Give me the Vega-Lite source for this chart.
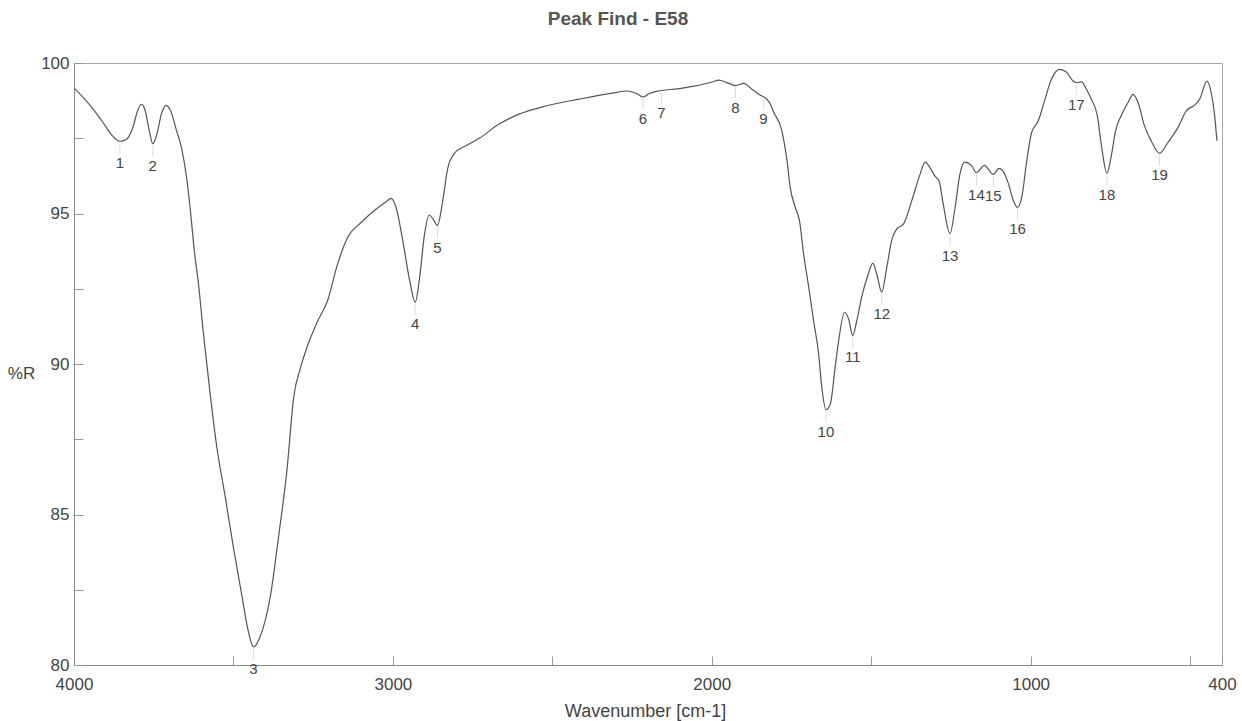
{
  "$schema": "https://vega.github.io/schema/vega-lite/v6.json",
  "width": 1148,
  "height": 602,
  "autosize": {"type": "none"},
  "padding": {"left": 74, "top": 63, "right": 20, "bottom": 56},
  "background": "white",
  "config": {
    "font": "Liberation Sans",
    "view": {"stroke": "#aaa", "strokeWidth": 1},
    "axis": {"grid": false, "domainColor": "#888", "tickColor": "#999", "labelColor": "#444", "titleColor": "#444", "labelFont": "Liberation Sans", "titleFont": "Liberation Sans"}
  },
  "title": {"text": "Peak Find - E58", "fontSize": 19, "fontWeight": "bold", "color": "#555", "anchor": "middle", "dx": -30, "baseline": "bottom", "offset": 6, "font": "Liberation Sans"},
  "datasets": {
    "spectrum": [
      {"wn": 3998, "r": 99.15}, {"wn": 3963, "r": 98.76}, {"wn": 3937, "r": 98.43}, {"wn": 3910, "r": 98.04},
      {"wn": 3884, "r": 97.64}, {"wn": 3856, "r": 97.4}, {"wn": 3837, "r": 97.45}, {"wn": 3816, "r": 97.84},
      {"wn": 3800, "r": 98.43}, {"wn": 3789, "r": 98.63}, {"wn": 3779, "r": 98.5}, {"wn": 3763, "r": 97.7},
      {"wn": 3753, "r": 97.32}, {"wn": 3740, "r": 97.64}, {"wn": 3726, "r": 98.3}, {"wn": 3711, "r": 98.59},
      {"wn": 3695, "r": 98.36}, {"wn": 3679, "r": 97.77}, {"wn": 3663, "r": 97.19}, {"wn": 3647, "r": 96.2},
      {"wn": 3637, "r": 95.3}, {"wn": 3621, "r": 93.6}, {"wn": 3610, "r": 92.7}, {"wn": 3595, "r": 91.1},
      {"wn": 3574, "r": 89.1}, {"wn": 3553, "r": 87.3}, {"wn": 3526, "r": 85.6}, {"wn": 3500, "r": 83.9},
      {"wn": 3474, "r": 82.33}, {"wn": 3455, "r": 81.2}, {"wn": 3437, "r": 80.6}, {"wn": 3418, "r": 80.9},
      {"wn": 3384, "r": 82.3}, {"wn": 3358, "r": 84.3}, {"wn": 3332, "r": 86.5}, {"wn": 3311, "r": 88.9},
      {"wn": 3289, "r": 89.9}, {"wn": 3268, "r": 90.6}, {"wn": 3237, "r": 91.4}, {"wn": 3205, "r": 92.1},
      {"wn": 3174, "r": 93.3}, {"wn": 3142, "r": 94.2}, {"wn": 3100, "r": 94.7}, {"wn": 3058, "r": 95.1},
      {"wn": 3020, "r": 95.4}, {"wn": 3006, "r": 95.5}, {"wn": 2990, "r": 95.2}, {"wn": 2969, "r": 94.1},
      {"wn": 2948, "r": 92.8}, {"wn": 2930, "r": 92.05}, {"wn": 2917, "r": 92.8}, {"wn": 2901, "r": 94.3},
      {"wn": 2886, "r": 94.95}, {"wn": 2873, "r": 94.8}, {"wn": 2860, "r": 94.6}, {"wn": 2844, "r": 95.4},
      {"wn": 2828, "r": 96.5}, {"wn": 2807, "r": 97.0}, {"wn": 2771, "r": 97.25}, {"wn": 2729, "r": 97.5},
      {"wn": 2667, "r": 97.97}, {"wn": 2604, "r": 98.3}, {"wn": 2520, "r": 98.57}, {"wn": 2416, "r": 98.8},
      {"wn": 2312, "r": 99.0}, {"wn": 2265, "r": 99.07}, {"wn": 2234, "r": 98.98}, {"wn": 2216, "r": 98.87},
      {"wn": 2197, "r": 98.98}, {"wn": 2176, "r": 99.05}, {"wn": 2103, "r": 99.15}, {"wn": 2051, "r": 99.24},
      {"wn": 1999, "r": 99.37}, {"wn": 1978, "r": 99.43}, {"wn": 1952, "r": 99.35}, {"wn": 1926, "r": 99.25},
      {"wn": 1900, "r": 99.32}, {"wn": 1874, "r": 99.13}, {"wn": 1848, "r": 98.93}, {"wn": 1835, "r": 98.86},
      {"wn": 1820, "r": 98.7}, {"wn": 1805, "r": 98.35}, {"wn": 1780, "r": 97.74}, {"wn": 1764, "r": 96.75},
      {"wn": 1754, "r": 95.86}, {"wn": 1738, "r": 95.2}, {"wn": 1725, "r": 94.76}, {"wn": 1712, "r": 93.65},
      {"wn": 1696, "r": 92.55}, {"wn": 1681, "r": 91.45}, {"wn": 1665, "r": 90.34}, {"wn": 1655, "r": 89.23},
      {"wn": 1642, "r": 88.48}, {"wn": 1628, "r": 88.68}, {"wn": 1613, "r": 89.9}, {"wn": 1602, "r": 90.78},
      {"wn": 1584, "r": 91.72}, {"wn": 1571, "r": 91.5}, {"wn": 1558, "r": 90.95}, {"wn": 1545, "r": 91.45},
      {"wn": 1530, "r": 92.22}, {"wn": 1509, "r": 93.0}, {"wn": 1495, "r": 93.35}, {"wn": 1483, "r": 93.0},
      {"wn": 1467, "r": 92.39}, {"wn": 1451, "r": 93.22}, {"wn": 1436, "r": 94.1}, {"wn": 1420, "r": 94.49},
      {"wn": 1399, "r": 94.65}, {"wn": 1373, "r": 95.42}, {"wn": 1347, "r": 96.3}, {"wn": 1331, "r": 96.71},
      {"wn": 1315, "r": 96.51}, {"wn": 1300, "r": 96.24}, {"wn": 1287, "r": 96.07}, {"wn": 1274, "r": 95.3},
      {"wn": 1253, "r": 94.33}, {"wn": 1237, "r": 95.2}, {"wn": 1222, "r": 96.3}, {"wn": 1206, "r": 96.71},
      {"wn": 1185, "r": 96.58}, {"wn": 1170, "r": 96.36}, {"wn": 1145, "r": 96.6}, {"wn": 1117, "r": 96.3},
      {"wn": 1100, "r": 96.5}, {"wn": 1086, "r": 96.4}, {"wn": 1070, "r": 96.0}, {"wn": 1055, "r": 95.45},
      {"wn": 1041, "r": 95.2}, {"wn": 1027, "r": 95.59}, {"wn": 1013, "r": 96.69}, {"wn": 997, "r": 97.69},
      {"wn": 976, "r": 98.08}, {"wn": 955, "r": 98.8}, {"wn": 935, "r": 99.46}, {"wn": 909, "r": 99.79},
      {"wn": 888, "r": 99.7}, {"wn": 867, "r": 99.4}, {"wn": 857, "r": 99.35}, {"wn": 841, "r": 99.37},
      {"wn": 825, "r": 99.13}, {"wn": 810, "r": 98.8}, {"wn": 791, "r": 98.25}, {"wn": 778, "r": 97.25},
      {"wn": 761, "r": 96.34}, {"wn": 747, "r": 96.92}, {"wn": 734, "r": 97.74}, {"wn": 716, "r": 98.25},
      {"wn": 695, "r": 98.68}, {"wn": 679, "r": 98.96}, {"wn": 663, "r": 98.68}, {"wn": 643, "r": 97.91},
      {"wn": 622, "r": 97.41}, {"wn": 596, "r": 97.0}, {"wn": 570, "r": 97.35}, {"wn": 538, "r": 97.86},
      {"wn": 512, "r": 98.41}, {"wn": 486, "r": 98.6}, {"wn": 470, "r": 98.8}, {"wn": 447, "r": 99.4},
      {"wn": 434, "r": 99.02}, {"wn": 423, "r": 98.25}, {"wn": 416, "r": 97.42}
    ],
    "peaks": [
      {"wn": 3856, "r": 97.4, "label": "1"}, {"wn": 3753, "r": 97.32, "label": "2"},
      {"wn": 3437, "r": 80.6, "label": "3"}, {"wn": 2930, "r": 92.05, "label": "4"},
      {"wn": 2860, "r": 94.6, "label": "5"}, {"wn": 2216, "r": 98.87, "label": "6"},
      {"wn": 2158, "r": 99.08, "label": "7"}, {"wn": 1926, "r": 99.25, "label": "8"},
      {"wn": 1838, "r": 98.88, "label": "9"}, {"wn": 1642, "r": 88.48, "label": "10"},
      {"wn": 1558, "r": 90.95, "label": "11"}, {"wn": 1467, "r": 92.39, "label": "12"},
      {"wn": 1253, "r": 94.33, "label": "13"}, {"wn": 1170, "r": 96.36, "label": "14"},
      {"wn": 1117, "r": 96.3, "label": "15"}, {"wn": 1041, "r": 95.2, "label": "16"},
      {"wn": 857, "r": 99.35, "label": "17"}, {"wn": 761, "r": 96.34, "label": "18"},
      {"wn": 596, "r": 97.0, "label": "19"}
    ]
  },
  "encoding": {
    "x": {
      "field": "wn", "type": "quantitative",
      "scale": {"domain": [4000, 400], "nice": false, "zero": false},
      "axis": {
        "values": [4000, 3500, 3000, 2500, 2000, 1500, 1000, 500, 400],
        "labelExpr": "(datum.value == 3500 || datum.value == 2500 || datum.value == 1500 || datum.value == 500) ? '' : datum.label",
        "format": "d",
        "tickSize": -9,
        "labelPadding": 20,
        "labelFontSize": 17,
        "labelFlush": false,
        "labelOverlap": false,
        "title": "Wavenumber [cm-1]",
        "titleFontSize": 18,
        "titleFontWeight": "normal",
        "titleBaseline": "middle",
        "titleY": 46,
        "titleX": 571
      }
    },
    "y": {
      "field": "r", "type": "quantitative",
      "scale": {"domain": [80, 100], "nice": false, "zero": false},
      "axis": {
        "values": [80, 82.5, 85, 87.5, 90, 92.5, 95, 97.5, 100],
        "labelExpr": "datum.value % 5 == 0 ? format(datum.value, 'd') : ''",
        "tickSize": -9,
        "labelPadding": 14,
        "labelFontSize": 17,
        "labelFlush": false,
        "labelOverlap": false,
        "title": "%R",
        "titleAngle": 0,
        "titleFontSize": 17,
        "titleFontWeight": "normal",
        "titleAlign": "center",
        "titleBaseline": "middle",
        "titleX": -53,
        "titleY": 310
      }
    }
  },
  "layer": [
    {
      "data": {"name": "spectrum"},
      "mark": {"type": "line", "color": "#555", "strokeWidth": 1.2, "interpolate": "monotone"}
    },
    {
      "data": {"name": "peaks"},
      "mark": {"type": "tick", "orient": "vertical", "size": 11, "thickness": 1, "color": "#ccc", "yOffset": 7}
    },
    {
      "data": {"name": "peaks"},
      "mark": {"type": "text", "fontSize": 15, "color": "#444", "baseline": "middle", "align": "center", "dy": 22},
      "encoding": {"text": {"field": "label"}}
    }
  ]
}
